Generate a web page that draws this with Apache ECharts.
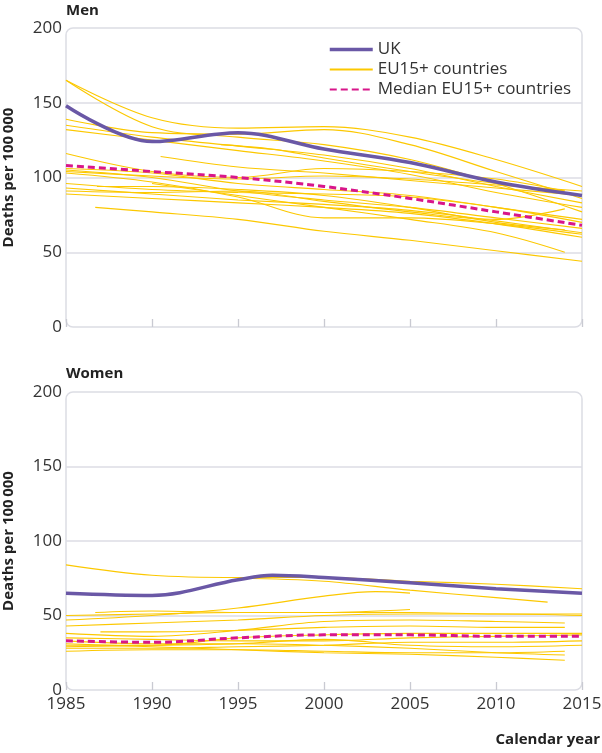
<!DOCTYPE html>
<html><head><meta charset="utf-8">
<script src="https://cdn.jsdelivr.net/npm/echarts@6/dist/echarts.min.js"></script>
<style>html,body{margin:0;padding:0;background:#fff}#c{width:602px;height:753px}</style>
</head><body><div id="c"></div>
<script>
// ---- Data ----
const xTicks = [1985, 1990, 1995, 2000, 2005, 2010, 2015];
const yTicks = [0, 50, 100, 150, 200];

const menUK = [[1985,148],[1990,124],[1995,130],[2000,119],[2005,110],[2010,97],[2015,88]];
const menMedian = [[1985,108],[1990,104],[1995,100],[2000,94],[2005,86],[2010,77],[2015,68]];
const menCountries = [
  [[1985,165],[1990,140],[1995,133],[2000,134],[2005,127],[2010,112],[2015,94]],
  [[1985,165],[1990,134],[1995,127],[2000,122],[2005,112],[2010,96],[2015,77]],
  [[1985,139],[1990,130],[1995,129],[2000,132],[2005,122],[2010,104],[2015,86]],
  [[1985,135],[1990,127],[1995,121],[2000,115],[2005,106],[2010,94],[2015,83]],
  [[1985,132],[1990,125],[1995,118],[2000,111],[2005,102],[2010,90],[2015,80]],
  [[1985,116],[1990,104],[1995,100],[2000,106],[2005,104],[2010,99],[2014,91]],
  [[1985,106],[1990,103],[1995,96],[2000,92],[2005,88],[2010,80],[2015,72]],
  [[1985,105],[1990,100],[1995,91],[2000,85],[2005,80],[2010,73],[2015,66]],
  [[1985,96],[1990,92],[1995,90],[2000,89],[2005,87],[2010,80],[2015,70]],
  [[1985,93],[1990,89],[1995,85],[2000,82],[2005,78],[2010,71],[2015,63]],
  [[1985,89],[1990,86],[1995,83],[2000,80],[2005,76],[2010,69],[2015,60]],
  [[1986.7,80],[1990,77],[1995,72],[2000,64],[2005,58],[2010,51],[2015,44]],
  [[1990.5,114],[1995,107],[2000,103],[2005,98],[2010,93],[2015,88]],
  [[1994,122],[1997,119],[2000,113],[2005,104],[2010,96],[2014,91]],
  [[1986.8,94],[1990,94],[1995,92],[2000,88],[2005,80],[2010,70],[2014,65]],
  [[1985,103],[1990,97],[1995,87],[2000,73],[2005,73],[2010,69],[2015,62]],
  [[1985,91],[1990,90],[1995,91],[2000,84],[2005,77],[2010,72],[2014,79]],
  [[1985,104],[1990,101],[1995,99],[2000,101],[2005,99],[2010,95],[2015,91]],
  [[1990,96],[1995,88],[2000,80],[2005,72],[2010,63],[2014,50]]
];

const womenUK = [[1985,65],[1990,63.5],[1995,74],[1997,77],[2000,75.5],[2005,72],[2010,68],[2015,65]];
const womenMedian = [[1985,33],[1990,32],[1995,35],[2000,37],[2005,37],[2010,36],[2015,36]];
const womenCountries = [
  [[1985,84],[1990,77],[1995,75.5],[2000,75.5],[2005,73],[2010,71],[2015,68]],
  [[1995,75],[2000,73],[2005,67],[2010,62],[2013,59]],
  [[1985,47],[1990,50],[1995,55],[2000,63],[2003,66],[2005,65]],
  [[1986.7,52],[1990,53],[1995,52],[2000,52],[2005,54]],
  [[1985,43],[1990,45],[1995,47],[2000,50],[2005,51],[2010,51],[2015,50]],
  [[1985,50],[1990,51],[1995,52],[2000,52],[2005,52],[2010,51],[2015,51]],
  [[1985,38],[1990,36],[1995,40],[2000,46],[2005,47],[2010,46],[2014,45]],
  [[1987,39],[1990,39],[1995,40],[2000,42],[2005,43],[2010,42],[2014,42]],
  [[1985,30],[1990,30],[1995,35],[2000,37],[2005,38],[2010,38],[2015,38]],
  [[1985,28],[1990,28],[1995,29],[2000,30],[2005,32],[2010,32],[2015,33]],
  [[1985,26],[1990,27],[1995,27],[2000,26],[2005,25],[2010,25],[2014,26]],
  [[1985,31],[1990,29],[1995,27],[2000,25],[2005,24],[2010,22],[2014,20]],
  [[1985,33],[1990,31],[1995,31],[2000,30],[2005,28],[2010,25],[2014,23.5]],
  [[1985,35],[1990,34],[1995,33],[2000,33],[2005,35],[2010,36],[2015,37]],
  [[1985,29],[1990,30],[1995,31],[2000,34],[2005,30],[2010,29],[2015,30]]
];

// ---- Styles ----
const FONT = '"Open Sans", "Noto Sans", sans-serif';
const C_UK = '#6a58a6', C_EU = '#fcc800', C_MED = '#d8168a';
const GRID_C = '#dcdde4', TXT = '#333333';
const G1 = {left: 66, top: 28, width: 516, height: 299};
const G2 = {left: 66, top: 392, width: 516, height: 298};

function xAxis(gi, showLabels) {
  return {
    type: 'value', gridIndex: gi, min: 1985, max: 2015, interval: 5,
    axisLine: {show: false},
    axisTick: {show: true, inside: true, length: 8, lineStyle: {color: '#c9cad2', width: 1.3}},
    splitLine: {show: false},
    axisLabel: {show: showLabels, color: TXT, fontSize: 17, fontFamily: FONT, margin: 6,
      formatter: v => xTicks.includes(v) ? String(v) : ''}
  };
}
function yAxis(gi) {
  return {
    type: 'value', gridIndex: gi, min: 0, max: 200, interval: 50,
    name: 'Deaths per 100\u2009000', nameLocation: 'middle', nameGap: 50, nameRotate: 90,
    nameTextStyle: {fontWeight: 'bold', fontSize: 15, color: '#222', fontFamily: FONT},
    axisLine: {show: false}, axisTick: {show: false},
    splitLine: {show: true, showMinLine: false, showMaxLine: false, lineStyle: {color: GRID_C, width: 1.5}},
    axisLabel: {color: TXT, fontSize: 17, fontFamily: FONT, margin: 4,
      formatter: v => yTicks.includes(v) ? String(v) : ''}
  };
}

const series = [];
function addPanel(gi, countries, median, uk) {
  countries.forEach(d => series.push({
    name: 'EU15+ countries', type: 'line', xAxisIndex: gi, yAxisIndex: gi, data: d,
    smooth: 0.35, symbol: 'none', lineStyle: {color: C_EU, width: 1.1}, itemStyle: {color: C_EU}, z: 2, silent: true
  }));
  series.push({
    name: 'Median EU15+ countries', type: 'line', xAxisIndex: gi, yAxisIndex: gi, data: median,
    smooth: 0.35, symbol: 'none', lineStyle: {color: C_MED, width: 3, type: [7, 4]}, itemStyle: {color: C_MED}, z: 3
  });
  series.push({
    name: 'UK', type: 'line', xAxisIndex: gi, yAxisIndex: gi, data: uk,
    smooth: 0.35, symbol: 'none', lineStyle: {color: C_UK, width: 3.5}, itemStyle: {color: C_UK}, z: 4
  });
}
addPanel(0, menCountries, menMedian, menUK);
addPanel(1, womenCountries, womenMedian, womenUK);

const chart = echarts.init(document.getElementById('c'), null, {renderer: 'canvas'});
chart.setOption({
  animation: false,
  backgroundColor: '#fff',
  grid: [
    Object.assign({containLabel: false, outerBoundsMode: 'none'}, G1),
    Object.assign({containLabel: false, outerBoundsMode: 'none'}, G2)
  ],
  xAxis: [xAxis(0, false), xAxis(1, true)],
  yAxis: [yAxis(0), yAxis(1)],
  legend: {
    data: [
      {name: 'UK', itemStyle: {opacity: 0}, lineStyle: {width: 3.5}},
      {name: 'EU15+ countries', itemStyle: {opacity: 0}},
      {name: 'Median EU15+ countries', itemStyle: {opacity: 0}}
    ],
    orient: 'vertical', left: 323, top: 36, itemWidth: 43, itemHeight: 12, itemGap: 3,
    itemStyle: {opacity: 0},
    textStyle: {color: TXT, fontSize: 17, fontFamily: FONT, padding: [0, 0, 0, 0]},
    selectedMode: false
  },
  graphic: [
    {type: 'rect', shape: {x: G1.left, y: G1.top, width: G1.width, height: G1.height, r: 7},
      style: {fill: 'none', stroke: GRID_C, lineWidth: 1.5}, z: 0, silent: true},
    {type: 'rect', shape: {x: G2.left, y: G2.top, width: G2.width, height: G2.height, r: 7},
      style: {fill: 'none', stroke: GRID_C, lineWidth: 1.5}, z: 0, silent: true},
    {type: 'text', left: 66, top: 3, style: {text: 'Men', fontWeight: 'bold', fontSize: 15, fill: '#222', fontFamily: FONT}},
    {type: 'text', left: 66, top: 366, style: {text: 'Women', fontWeight: 'bold', fontSize: 15, fill: '#222', fontFamily: FONT}},
    {type: 'text', right: 2, top: 732, style: {text: 'Calendar year', fontWeight: 'bold', fontSize: 15, fill: '#222', fontFamily: FONT}}
  ],
  series: series
});
</script></body></html>
